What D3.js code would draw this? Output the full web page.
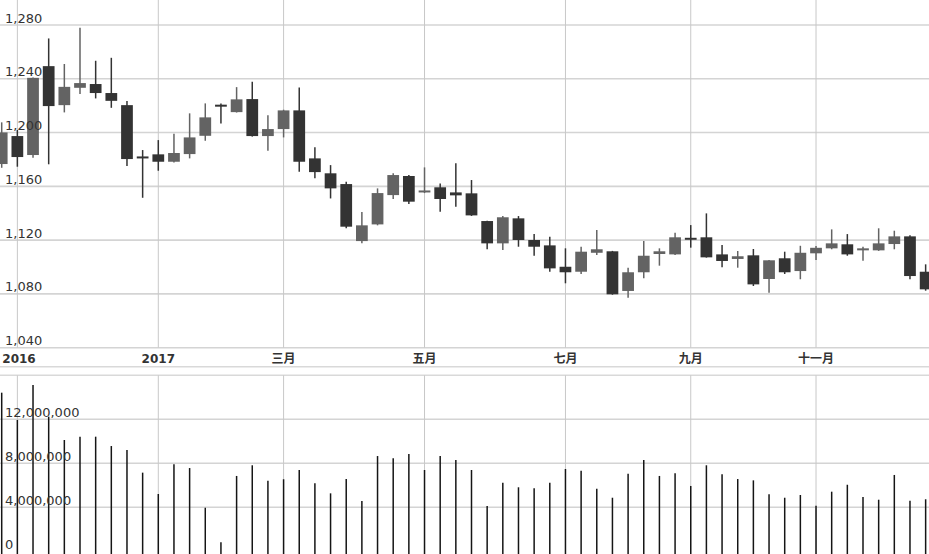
<!DOCTYPE html>
<html><head><meta charset="utf-8">
<script src="https://cdn.jsdelivr.net/npm/d3@7"></script>
<style>html,body{margin:0;padding:0;background:#fff;overflow:hidden}svg{display:block}</style>
</head><body>
<script>
const weeks = ["2016-10-24","2016-10-31","2016-11-07","2016-11-14","2016-11-21","2016-11-28","2016-12-05","2016-12-12","2016-12-19","2016-12-26",
"2017-01-02","2017-01-09","2017-01-16","2017-01-23","2017-01-30","2017-02-06","2017-02-13","2017-02-20","2017-02-27","2017-03-06",
"2017-03-13","2017-03-20","2017-03-27","2017-04-03","2017-04-10","2017-04-17","2017-04-24","2017-05-01","2017-05-08","2017-05-15",
"2017-05-22","2017-05-29","2017-06-05","2017-06-12","2017-06-19","2017-06-26","2017-07-03","2017-07-10","2017-07-17","2017-07-24",
"2017-07-31","2017-08-07","2017-08-14","2017-08-21","2017-08-28","2017-09-04","2017-09-11","2017-09-18","2017-09-25","2017-10-02",
"2017-10-09","2017-10-16","2017-10-23","2017-10-30","2017-11-06","2017-11-13","2017-11-20","2017-11-27","2017-12-04","2017-12-11"];
const open  = [1176.6,1197.4,1183.3,1249.4,1220.4,1233.3,1236.1,1229.4,1220.4,1181.5,1183.8,1178.3,1184.0,1197.6,1220.0,1215.2,1224.9,1197.4,1202.6,1216.5,
1180.8,1169.7,1161.7,1119.3,1131.7,1153.5,1167.7,1155.8,1159.3,1155.5,1154.8,1134.2,1117.6,1136.2,1120.1,1116.1,1100.2,1096.5,1110.6,1111.7,
1082.2,1096.1,1109.7,1109.4,1121.0,1122.1,1109.4,1106.0,1108.7,1091.1,1106.5,1097.0,1110.2,1113.9,1116.9,1112.4,1112.4,1117.1,1122.8,1096.5];
const high  = [1207.6,1201.9,1241.0,1270.0,1251.0,1277.9,1253.4,1255.6,1223.4,1187.0,1194.4,1199.1,1214.3,1221.7,1221.7,1233.8,1237.8,1212.8,1217.0,1233.6,
1189.0,1175.8,1163.4,1140.9,1158.5,1169.7,1168.5,1174.1,1162.2,1177.1,1164.7,1134.5,1137.9,1137.9,1124.5,1122.5,1113.9,1115.1,1127.5,1112.0,
1099.5,1119.3,1113.9,1125.5,1131.2,1139.9,1116.4,1111.9,1113.4,1105.3,1111.4,1115.8,1115.6,1128.0,1124.5,1115.1,1128.8,1127.0,1123.6,1102.0];
const low   = [1173.8,1174.6,1181.3,1176.4,1215.0,1228.6,1225.4,1218.4,1175.1,1151.5,1171.6,1177.8,1180.8,1193.9,1206.8,1214.9,1197.0,1186.5,1196.4,1170.9,
1166.0,1151.0,1128.8,1117.6,1131.0,1150.6,1146.8,1155.0,1141.1,1144.8,1138.0,1113.2,1112.6,1115.1,1108.4,1096.5,1087.9,1094.8,1108.9,1079.4,
1077.2,1091.6,1101.0,1109.0,1114.4,1107.0,1099.8,1099.5,1085.9,1080.9,1094.8,1090.9,1105.2,1113.2,1108.4,1104.7,1112.0,1113.2,1090.9,1082.4];
const close = [1200.1,1181.8,1240.7,1219.7,1234.0,1236.8,1229.4,1223.6,1180.3,1181.2,1178.3,1184.8,1196.4,1211.3,1219.6,1224.7,1197.4,1202.6,1216.5,1178.3,
1170.6,1158.5,1130.0,1131.0,1155.0,1168.4,1148.6,1156.2,1150.6,1153.3,1138.4,1117.6,1137.0,1120.1,1115.1,1099.0,1096.1,1111.4,1113.2,1079.7,
1096.1,1108.4,1111.7,1122.1,1120.6,1107.2,1104.5,1108.0,1087.1,1105.0,1096.1,1110.6,1114.3,1117.6,1109.4,1113.9,1117.6,1122.8,1093.3,1083.4];
const volume = [14.42,11.94,15.12,12.24,10.12,10.42,10.42,9.57,9.21,7.15,5.21,7.91,7.57,3.96,0.82,6.85,7.82,6.42,6.55,7.39,
6.18,5.27,6.57,4.57,8.66,8.45,8.85,7.39,8.66,8.30,7.39,4.12,6.24,5.82,5.73,6.24,7.48,7.33,5.69,4.87,
7.05,8.30,6.85,7.09,5.94,7.82,7.00,6.57,6.45,5.18,4.87,5.12,4.15,5.42,6.05,4.94,4.69,6.94,4.60,4.73].map(v => v * 1e6);
const tickWeeks  = ["2016-10-31","2017-01-02","2017-02-27","2017-05-01","2017-07-03","2017-08-28","2017-10-23"];
const tickLabels = ["2016","2017","三月","五月","七月","九月","十一月"];
const priceTicks = [1040,1080,1120,1160,1200,1240,1280];
const volumeTicks = [0,4000000,8000000,12000000];

const W = 929, H = 554;
const svg = d3.select("body").append("svg").attr("width", W).attr("height", H);
const step = 15.66;
const x = d3.scaleBand().domain(weeks).range([1.7 - step/2, 1.7 - step/2 + weeks.length*step]).padding(0);
const cx = d => x(d) + x.bandwidth()/2;
const yP = d3.scaleLinear().domain([1040,1280]).range([347.7,25]);
const yV = d3.scaleLinear().domain([0,16000000]).range([551.3,375.3]);
const fmt = d3.format(",");
const font = "DejaVu Sans, Verdana, sans-serif";

const data = weeks.map((w,i) => ({w, o:open[i], h:high[i], l:low[i], c:close[i], v:volume[i]}));

// grids
const g = svg.append("g");
g.selectAll(".hp").data(priceTicks).join("line")
  .attr("x1",0).attr("x2",W).attr("y1",d=>yP(d)).attr("y2",d=>yP(d))
  .attr("stroke","#d4d4d4").attr("stroke-width",1.6);
g.selectAll(".hv").data(volumeTicks.slice(1)).join("line")
  .attr("x1",0).attr("x2",W).attr("y1",d=>yV(d)).attr("y2",d=>yV(d))
  .attr("stroke","#d4d4d4").attr("stroke-width",1.6);
[366.7, 375.3].forEach(yy => g.append("line").attr("x1",0).attr("x2",W).attr("y1",yy).attr("y2",yy)
  .attr("stroke","#d9d9d9").attr("stroke-width",1.6));
g.selectAll(".vp").data(tickWeeks).join("line")
  .attr("x1",d=>cx(d)).attr("x2",d=>cx(d)).attr("y1",0).attr("y2",yP(1040))
  .attr("stroke","#c8c8c8").attr("stroke-width",1);
g.selectAll(".vv").data(tickWeeks).join("line")
  .attr("x1",d=>cx(d)).attr("x2",d=>cx(d)).attr("y1",yV.range()[1]).attr("y2",H)
  .attr("stroke","#c8c8c8").attr("stroke-width",1);

// candles
const dark = "#333333", light = "#636363";
const cw = x.bandwidth()*0.75;
const cg = svg.append("g");
cg.selectAll(".wick").data(data).join("line")
  .attr("x1",d=>cx(d.w)).attr("x2",d=>cx(d.w)).attr("y1",d=>yP(d.h)).attr("y2",d=>yP(d.l))
  .attr("stroke",d=>d.c>=d.o?light:dark).attr("stroke-width",1.5);
cg.selectAll(".body").data(data).join("rect")
  .attr("x",d=>cx(d.w)-cw/2).attr("width",cw)
  .attr("y",d=>Math.min(yP(d.o),yP(d.c)) - (Math.abs(yP(d.o)-yP(d.c))<2 ? 1 : 0))
  .attr("height",d=>Math.max(2,Math.abs(yP(d.o)-yP(d.c))))
  .attr("fill",d=>d.c>=d.o?light:dark);

// volume
svg.append("g").selectAll("line").data(data).join("line")
  .attr("x1",d=>cx(d.w)).attr("x2",d=>cx(d.w)).attr("y1",d=>yV(d.v)).attr("y2",H)
  .attr("stroke","#151515").attr("stroke-width",1.5);

// y labels
svg.append("g").selectAll("text").data(priceTicks).join("text")
  .attr("x",5).attr("y",d=>yP(d)-2.5).text(d=>fmt(d))
  .attr("font-family",font).attr("font-size",13).attr("fill","#333");
svg.append("g").selectAll("text").data(volumeTicks).join("text")
  .attr("x",5).attr("y",d=>yV(d)-2.8).text(d=>fmt(d))
  .attr("font-family",font).attr("font-size",13).attr("fill","#333");

// x labels
svg.append("g").selectAll("text").data(tickWeeks).join("text")
  .attr("x",(d,i)=>Math.max(cx(d), 19)).attr("y",362.5).attr("text-anchor","middle")
  .text((d,i)=>tickLabels[i])
  .attr("font-family","DejaVu Sans, 'Noto Sans CJK SC', sans-serif").attr("font-weight","bold")
  .attr("font-size",12).attr("fill","#333");
</script>
</body></html>
